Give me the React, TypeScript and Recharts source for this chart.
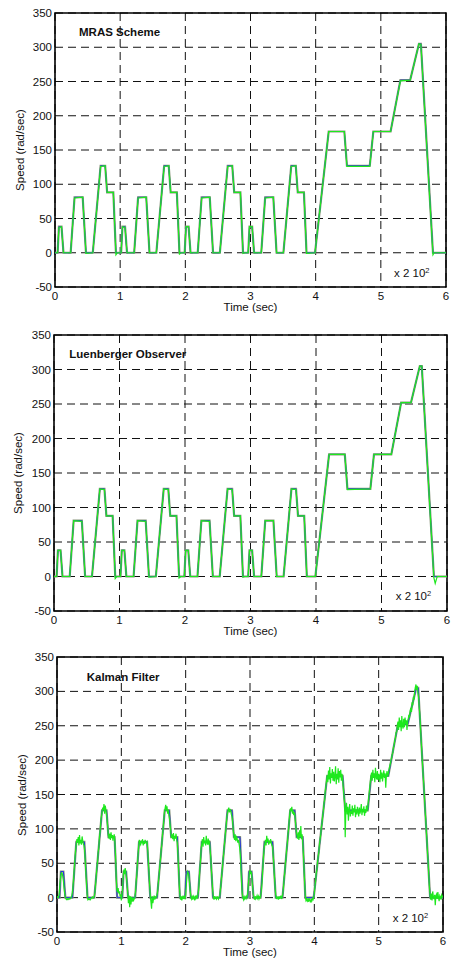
import { CartesianGrid, Line, LineChart, ReferenceArea, XAxis, YAxis } from "recharts";

// axis ticks
const timeTicks = [0, 1, 2, 3, 4, 5, 6];
const speedTicks = [-50, 0, 50, 100, 150, 200, 250, 300, 350];

// reference speed profile (4 urban cycles + extra-urban part), time in x 2 10^2 sec
const refTime = [
  0, 0.04, 0.06, 0.1, 0.13, 0.24, 0.3, 0.425, 0.475, 0.58, 0.7, 0.77, 0.8, 0.895, 0.935, 0.96,
  1.015, 1.035, 1.075, 1.105, 1.215, 1.275, 1.4, 1.45, 1.555, 1.675, 1.745, 1.775, 1.87, 1.91, 1.935,
  1.99, 2.01, 2.05, 2.08, 2.19, 2.25, 2.375, 2.425, 2.53, 2.65, 2.72, 2.75, 2.845, 2.885, 2.91,
  2.965, 2.985, 3.025, 3.055, 3.165, 3.225, 3.35, 3.4, 3.505, 3.625, 3.695, 3.725, 3.82, 3.86,
  3.99, 4.2, 4.44, 4.48, 4.83, 4.885, 5.15, 5.3, 5.45, 5.585, 5.615, 5.8, 5.82, 5.85, 6,
];
const refSpeed = [
  0, 0, 38, 38, 0, 0, 81, 81, 0, 0, 127, 127, 88, 88, 0, 0,
  0, 38, 38, 0, 0, 81, 81, 0, 0, 127, 127, 88, 88, 0, 0,
  0, 38, 38, 0, 0, 81, 81, 0, 0, 127, 127, 88, 88, 0, 0,
  0, 38, 38, 0, 0, 81, 81, 0, 0, 127, 127, 88, 88, 0,
  0, 177, 177, 127, 127, 177, 177, 252, 252, 305, 305, 0, 0, 0, 0,
];
const mrasSpeed = [
  0, 0, 37, 38, 0, 0, 80, 81, -1, 0, 126, 127, 88, 88, -3, 0,
  0, 38, 37, 0, 0, 80, 81, 0, 0, 126, 127, 88, 88, -2, 0,
  0, 38, 38, 0, 0, 80, 81, 0, 0, 126, 127, 88, 88, -1, 0,
  0, 38, 38, 0, 0, 80, 81, 0, 0, 126, 127, 88, 88, -1,
  0, 177, 177, 126, 126, 177, 177, 251, 252, 305, 304, -3, 0, 0, 0,
];
const luenbergerSpeed = [
  0, 0, 38, 38, 0, 0, 81, 80, 0, 0, 127, 126, 88, 88, -3, 0,
  0, 38, 38, 0, 0, 81, 80, -1, 0, 127, 126, 88, 88, -2, 0,
  0, 38, 38, 0, 0, 81, 80, 0, 0, 127, 126, 88, 88, -1, 0,
  0, 38, 38, 0, 0, 81, 81, 0, 0, 127, 126, 88, 88, 0,
  0, 177, 177, 126, 127, 177, 177, 252, 252, 305, 305, -2, -10, 0, 0,
];

// Kalman filter estimate, sampled every 0.01 (x 2 10^2 sec)
const kalmanStep = 0.01;
const kalmanSpeed = [
  0, 1, 0, 3, 12, 24, 33, 36, 35, 31,
  24, 14, 6, 1, -2, -3, -2, -3, -2, -1,
  -2, -1, 0, 3, 8, 18, 30, 44, 58, 70,
  78, 85, 80, 88, 76, 91, 79, 84, 77, 89,
  83, 78, 76, 68, 52, 34, 18, 4, -3, -2,
  -3, -2, -3, -1, 0, 1, -1, 0, 2, 8,
  20, 31, 44, 52, 66, 73, 88, 96, 109, 118,
  124, 131, 127, 136, 122, 134, 128, 120, 112, 100,
  90, 86, 93, 84, 95, 87, 91, 83, 89, 92,
  80, 62, 30, 12, 8, 14, 6, 9, 2, 5,
  -4, 2, 14, 30, 41, 34, 43, 36, 28, 18,
  6, -8, 3, -14, 2, -10, 1, -6, 0, -4,
  -2, 1, 8, 22, 33, 50, 62, 76, 84, 79,
  77, 83, 79, 85, 76, 82, 78, 84, 80, 79,
  81, 70, 52, 36, 18, 4, -6, -16, 2, -8,
  -2, 3, -3, 1, 0, 2, 6, 15, 27, 36,
  49, 57, 70, 78, 92, 100, 113, 124, 130, 135,
  126, 133, 122, 128, 120, 114, 104, 94, 87, 92,
  85, 94, 82, 90, 86, 93, 84, 80, 62, 42,
  20, 4, -3, 2, -4, 0, 3, -2, 1, -1,
  4, 18, 31, 38, 36, 32, 22, 10, 2, -2,
  1, -3, 2, 0, -4, 3, -1, 2, 0, 4,
  10, 24, 42, 52, 70, 78, 85, 74, 88, 79,
  83, 76, 90, 80, 77, 86, 79, 81, 70, 58,
  40, 26, 10, 1, -3, 2, -1, 0, -2, 1,
  0, -2, 1, 2, 12, 20, 33, 41, 55, 63,
  75, 84, 96, 104, 118, 122, 128, 131, 124, 129,
  126, 121, 118, 110, 98, 90, 84, 92, 82, 88,
  86, 80, 84, 78, 72, 62, 40, 20, 6, 0,
  -3, 1, -2, 0, 2, -1, 3, 12, 26, 36,
  40, 34, 38, 28, 16, 6, 1, -3, 2, -2,
  0, 3, -1, 2, -2, 1, 0, 5, 14, 26,
  45, 60, 72, 78, 84, 76, 90, 81, 86, 77,
  83, 79, 85, 80, 76, 74, 62, 48, 30, 15,
  4, -2, 1, 0, -3, 2, -1, 0, 3, -2,
  1, 6, 14, 28, 36, 50, 57, 71, 78, 92,
  100, 113, 124, 130, 126, 132, 122, 127, 120, 124,
  118, 106, 96, 90, 86, 95, 84, 98, 88, 104,
  85, 92, 80, 64, 42, 20, 2, -4, -2, -5,
  -3, -6, -1, -4, -7, -2, -5, -1, -3, 0,
  6, 18, 24, 36, 41, 52, 60, 66, 78, 85,
  92, 103, 108, 120, 125, 137, 142, 155, 162, 170,
  178, 168, 185, 172, 190, 166, 181, 174, 187, 170,
  183, 169, 176, 191, 165, 180, 172, 188, 167, 184,
  175, 186, 170, 180, 172, 160, 148, 138, 88, 130,
  138, 121, 132, 112, 128, 136, 118, 126, 122, 134,
  119, 130, 124, 135, 117, 128, 121, 132, 125, 118,
  131, 122, 127, 136, 120, 129, 124, 133, 119, 128,
  123, 134, 126, 130, 140, 150, 158, 168, 176, 182,
  170, 186, 174, 181, 168, 189, 176, 172, 184, 171,
  180, 175, 168, 186, 173, 182, 169, 178, 185, 174,
  181, 160, 178, 184, 176, 180, 186, 190, 194, 199,
  203, 208, 211, 219, 221, 229, 231, 240, 241, 250,
  256, 244, 262, 248, 258, 242, 264, 250, 246, 260,
  248, 262, 252, 258, 244, 256, 260, 266, 262, 272,
  276, 270, 284, 280, 292, 288, 300, 306, 310, 302,
  308, 298, 292, 278, 266, 248, 230, 212, 196, 180,
  166, 150, 130, 116, 98, 84, 64, 50, 30, 14,
  2, -3, 6, -4, 9, 1, -2, 4, -11, 3,
  5, -2, 8, 0, -5, 3, 1, -3, 4, 2,
  0,
];

const toRows = (ts: number[], vs: number[]) => ts.map((t, i) => ({ t, v: vs[i] }));
const refData = toRows(refTime, refSpeed);
const mrasData = toRows(refTime, mrasSpeed);
const luenbergerData = toRows(refTime, luenbergerSpeed);
const kalmanData = kalmanSpeed.map((v, i) => ({ t: Math.round(i * kalmanStep * 100) / 100, v }));

const FONT = "Arial, 'Liberation Sans', Helvetica, sans-serif";
const W = 451;
const H = 320;

type PanelProps = {
  top: number;
  title: string;
  estimate: { t: number; v: number }[];
  marginTop: number;
  marginRight: number;
  yWidth: number;
  xHeight: number;
  titlePos: [number, number];
  notePos: [number, number];
  yLabelX: number;
};

const Panel = ({ top, title, estimate, marginTop, marginRight, yWidth, xHeight, titlePos, notePos, yLabelX }: PanelProps) => {
  const plotH = H - marginTop - xHeight;
  const plotCx = yWidth + (W - yWidth - marginRight) / 2;
  const txt = { position: "absolute" as const, fontFamily: FONT, fontSize: 11.5, color: "#111", whiteSpace: "nowrap" as const, lineHeight: 1 };
  return (
    <div style={{ position: "absolute", left: 0, top, width: W, height: H }}>
      <LineChart width={W} height={H} margin={{ top: marginTop, right: marginRight, left: 0, bottom: 0 }}>
        <CartesianGrid stroke="#111" strokeDasharray="8 5" strokeWidth={1} />
        <XAxis
          dataKey="t"
          type="number"
          domain={[0, 6]}
          ticks={timeTicks}
          allowDataOverflow
          height={xHeight}
          axisLine={false}
          tickLine={false}
          tickSize={3}
          tick={{ fontSize: 11.5, fontFamily: FONT, fill: "#111" }}
        />
        <YAxis
          type="number"
          domain={[-50, 350]}
          ticks={speedTicks}
          allowDataOverflow
          width={yWidth}
          axisLine={false}
          tickLine={false}
          tickSize={1}
          tick={{ fontSize: 11.5, fontFamily: FONT, fill: "#111" }}
        />
        <Line data={refData} dataKey="v" name="actual" type="linear" stroke="#8a957c" strokeWidth={2.2} dot={false} isAnimationActive={false} />
        <Line data={refData} dataKey="v" name="reference" type="linear" stroke="#2233dd" strokeWidth={1} dot={false} isAnimationActive={false} />
        <Line data={estimate} dataKey="v" name="estimate" type="linear" stroke="#1ee81e" strokeWidth={1.2} dot={false} isAnimationActive={false} />
        <ReferenceArea x1={0} x2={6} y1={-50} y2={350} fill="none" fillOpacity={0} stroke="#000" strokeWidth={1.6} ifOverflow="visible" />
      </LineChart>
      <div style={{ ...txt, left: titlePos[0], top: titlePos[1], transform: "translateY(-50%)", fontWeight: "bold" }}>{title}</div>
      <div style={{ ...txt, left: notePos[0], top: notePos[1], transform: "translateY(-50%)" }}>
        x 2 10<span style={{ fontSize: 7.5, position: "relative", top: -4 }}>2</span>
      </div>
      <div style={{ ...txt, left: plotCx, top: H - xHeight + 21, transform: "translate(-50%, -50%)" }}>Time (sec)</div>
      <div style={{ ...txt, left: yLabelX, top: marginTop + plotH / 2, transform: "translate(-50%, -50%) rotate(-90deg)" }}>Speed (rad/sec)</div>
    </div>
  );
};

export default function App() {
  return (
    <div style={{ position: "absolute", left: 0, top: 0, width: W, height: 961, background: "#fff" }}>
      <Panel top={0} title="MRAS Scheme" estimate={mrasData} marginTop={13} marginRight={5} yWidth={55} xHeight={33} titlePos={[79, 32.7]} notePos={[394, 274]} yLabelX={20.7} />
      <Panel top={320} title="Luenberger Observer" estimate={luenbergerData} marginTop={15} marginRight={4} yWidth={54} xHeight={29} titlePos={[69.3, 35]} notePos={[395.7, 276.7]} yLabelX={19} />
      <Panel top={640} title="Kalman Filter" estimate={kalmanData} marginTop={17} marginRight={8} yWidth={57} xHeight={28} titlePos={[86.7, 37.7]} notePos={[392.7, 279.3]} yLabelX={23.3} />
    </div>
  );
}
